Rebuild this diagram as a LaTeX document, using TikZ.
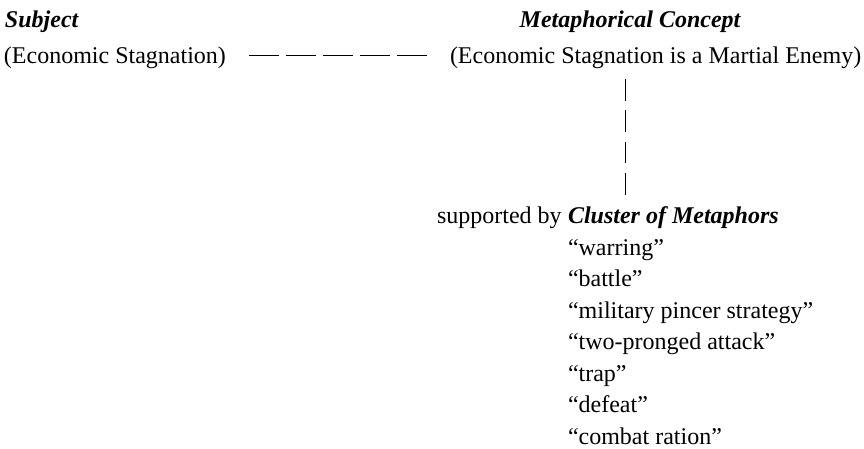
\documentclass[tikz,border=0pt]{standalone}
\usepackage{fontspec}
\setmainfont{Liberation Serif}
\begin{document}
\begin{tikzpicture}[x=1pt,y=-1pt,
  txt/.style={inner sep=0pt,outer sep=0pt,anchor=base west,font=\fontsize{24}{29}\selectfont},
  head/.style={txt,font=\fontsize{24}{29}\selectfont\bfseries\itshape},
  hlink/.style={line width=0.9pt,dash pattern=on 29.5pt off 7.5pt},
  vlink/.style={line width=0.9pt,dash pattern=on 21.5pt off 9.9pt}]
\useasboundingbox (0,0) rectangle (864,448);
\node[head] (subjh) at (5,27) {Subject};
\node[head,anchor=base] (conch) at (630,27) {Metaphorical Concept};
\node[txt] (subj) at (4,63) {(Economic Stagnation)};
\node[txt] (conc) at (450,63) {(Economic Stagnation is a Martial Enemy)};
\node[txt] (supp) at (437,223) {supported by};
\node[head] (clus) at (568,223) {Cluster of Metaphors};
\node[txt] (m1) at (568,255) {“warring”};
\node[txt] (m2) at (568,286) {“battle”};
\node[txt] (m3) at (568,318) {“military pincer strategy”};
\node[txt] (m4) at (568,349) {“two-pronged attack”};
\node[txt] (m5) at (568,381) {“trap”};
\node[txt] (m6) at (568,412) {“defeat”};
\node[txt] (m7) at (568,444) {“combat ration”};
\coordinate (hs) at (249,55);
\coordinate (he) at (426.5,55);
\draw[hlink] (hs) -- (he);
\coordinate (vs) at (625,79);
\coordinate (ve) at (625,195);
\draw[vlink] (vs) -- (ve);
\end{tikzpicture}
\end{document}
